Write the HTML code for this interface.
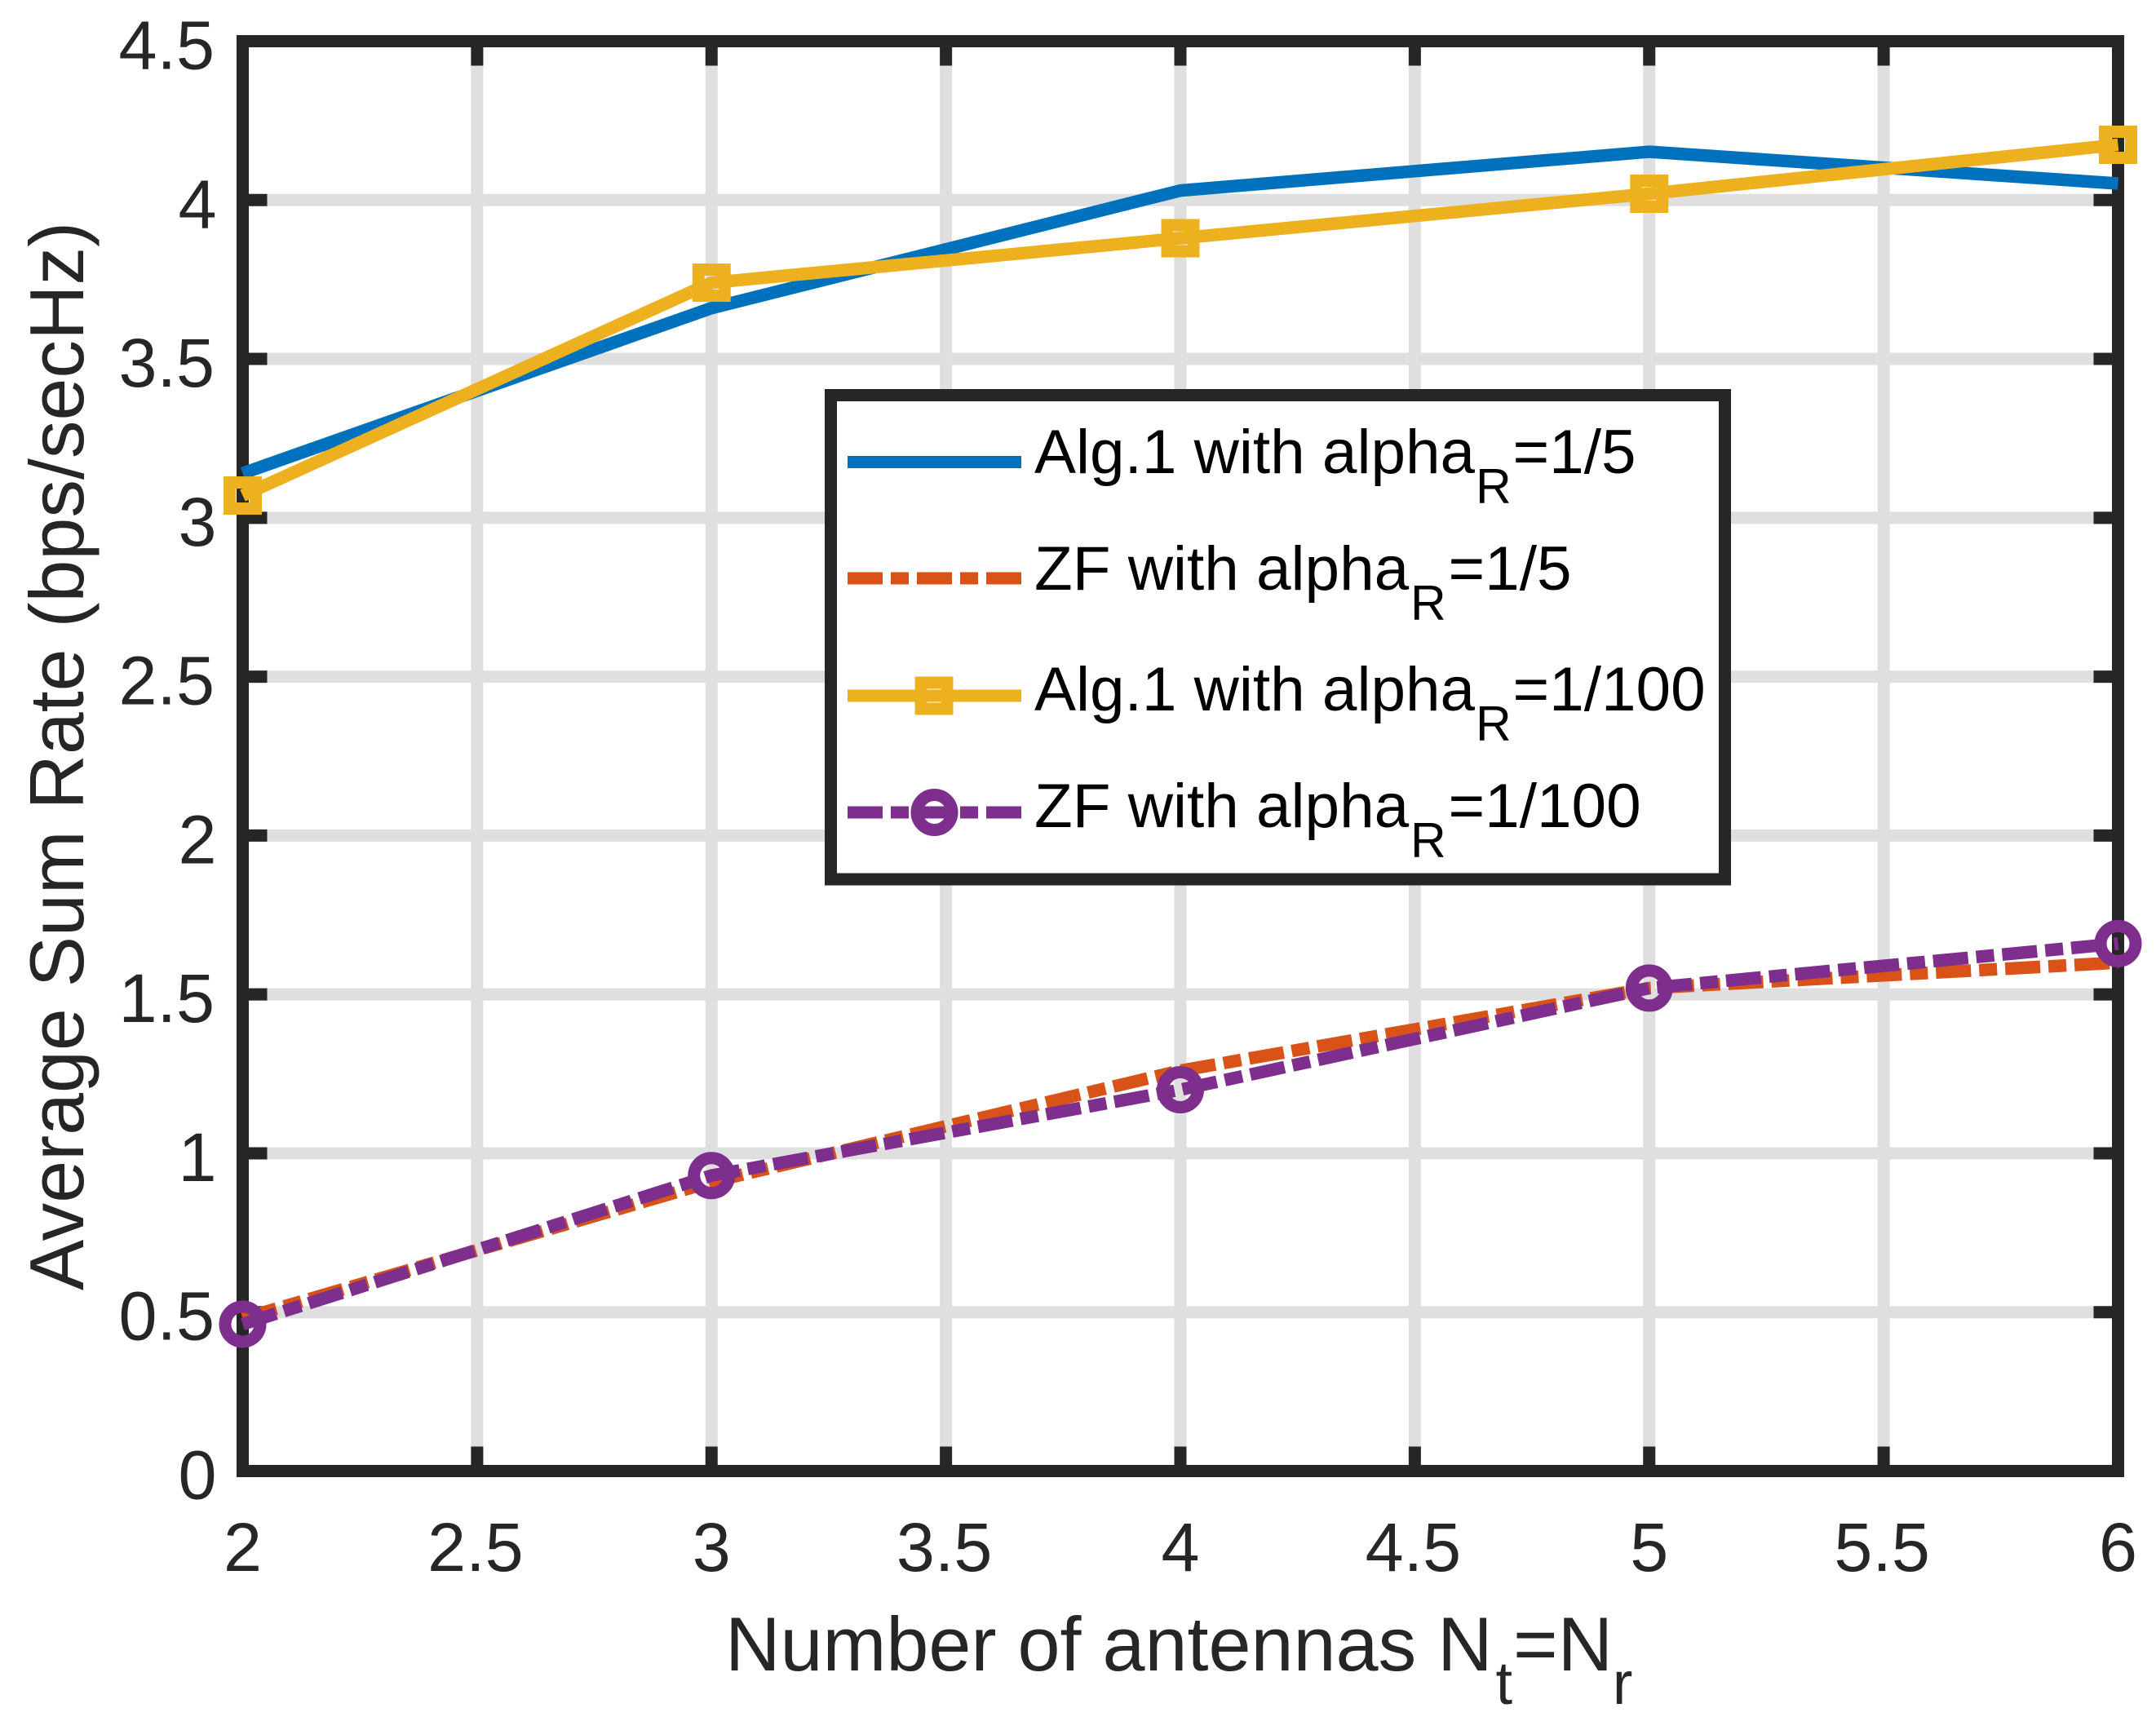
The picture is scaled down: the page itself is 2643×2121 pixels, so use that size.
<!DOCTYPE html>
<html lang="en">
<head>
<meta charset="utf-8">
<title>Average Sum Rate vs Number of Antennas</title>
<style>
html,body{margin:0;padding:0;background:#fff;}
svg{display:block;}
text{font-family:"Liberation Sans",Arial,sans-serif;}
</style>
</head>
<body>
<svg id="chart" xmlns="http://www.w3.org/2000/svg" width="2643" height="2121" viewBox="0 0 2643 2121">
  <rect x="0" y="0" width="2643" height="2121" fill="#ffffff"/>
  <g id="grid"></g>
  <g id="ticks"></g>
  <rect x="297.5" y="50.5" width="2299" height="1753" fill="none" stroke="#262626" stroke-width="15"/>
  <g id="tick-labels" font-size="84.5" fill="#262626"></g>
  <g id="series"></g>

  <text transform="translate(102,1582) rotate(-90)" text-anchor="start" font-size="93.3" fill="#262626">Average Sum Rate (bps/secHz)</text>

  <g fill="#262626">
    <text x="889" y="2048" font-size="93.5">Number of antennas N</text>
    <text x="1833.5" y="2089" font-size="74">t</text>
    <text x="1855" y="2048" font-size="93.5">=N</text>
    <text x="1976.7" y="2089" font-size="74">r</text>
  </g>

  <g id="legend">
    <rect x="1018.5" y="484.5" width="1096" height="593.5" fill="#ffffff" stroke="#262626" stroke-width="15"/>
    <g>
      <line x1="1039" x2="1252" y1="566.5" y2="566.5" stroke="#0072BD" stroke-width="15"/>
      <text x="1268" y="580" font-size="76.5" fill="#000">Alg.1 with alpha<tspan x="1809" dy="37" font-size="60.5">R</tspan><tspan x="1854.5" dy="-37">=1/5</tspan></text>
    </g>
    <g>
      <line x1="1039" x2="1252" y1="709" y2="709" stroke="#D95319" stroke-width="15" stroke-dasharray="43 10 22 10"/>
      <text x="1268" y="723" font-size="76.5" fill="#000">ZF with alpha<tspan x="1729" dy="37" font-size="60.5">R</tspan><tspan x="1775.5" dy="-37">=1/5</tspan></text>
    </g>
    <g>
      <line x1="1039" x2="1252" y1="853" y2="853" stroke="#EDB120" stroke-width="15"/>
      <rect x="1129" y="837" width="32" height="32" fill="none" stroke="#EDB120" stroke-width="15"/>
      <text x="1268" y="871" font-size="76.5" fill="#000">Alg.1 with alpha<tspan x="1809" dy="37" font-size="60.5">R</tspan><tspan x="1854.5" dy="-37">=1/100</tspan></text>
    </g>
    <g>
      <line x1="1039" x2="1252" y1="996" y2="996" stroke="#7E2F8E" stroke-width="15" stroke-dasharray="43 10 22 10"/>
      <circle cx="1145.5" cy="996" r="21.5" fill="none" stroke="#7E2F8E" stroke-width="15"/>
      <text x="1268" y="1014" font-size="76.5" fill="#000">ZF with alpha<tspan x="1729" dy="37" font-size="60.5">R</tspan><tspan x="1775.5" dy="-37">=1/100</tspan></text>
    </g>
  </g>
</svg>
<script>
// Chart data
const antennas = [2, 3, 4, 5, 6];
const alg1Alpha5 = [3.14, 3.66, 4.03, 4.152, 4.052];
const zfAlpha5 = [0.48, 0.91, 1.26, 1.52, 1.60];
const alg1Alpha100 = [3.07, 3.74, 3.88, 4.02, 4.174];
const zfAlpha100 = [0.462, 0.93, 1.20, 1.52, 1.66];
const xTickValues = [2, 2.5, 3, 3.5, 4, 4.5, 5, 5.5, 6];
const xTickLabels = ['2', '2.5', '3', '3.5', '4', '4.5', '5', '5.5', '6'];
const yTickValues = [0, 0.5, 1, 1.5, 2, 2.5, 3, 3.5, 4, 4.5];
const yTickLabels = ['0', '0.5', '1', '1.5', '2', '2.5', '3', '3.5', '4', '4.5'];

const NS = 'http://www.w3.org/2000/svg';
const plotLeft = 297.5, plotRight = 2596.5, plotTop = 50.5, plotBottom = 1803.5;
const xMin = 2, xMax = 6, yMin = 0, yMax = 4.5;
function xScale(v) { return plotLeft + (v - xMin) / (xMax - xMin) * (plotRight - plotLeft); }
function yScale(v) { return plotBottom - (v - yMin) / (yMax - yMin) * (plotBottom - plotTop); }
function make(tag, attrs, parent) {
  const el = document.createElementNS(NS, tag);
  for (const k in attrs) el.setAttribute(k, attrs[k]);
  parent.appendChild(el);
  return el;
}

const gridGroup = document.getElementById('grid');
const tickGroup = document.getElementById('ticks');
const labelGroup = document.getElementById('tick-labels');
const seriesGroup = document.getElementById('series');
const GRID = '#dfdfdf', AXIS = '#262626', TICK_LEN = 30;

xTickValues.forEach(function (v, i) {
  const x = xScale(v);
  const g = make('line', {x1: x, x2: x, y1: plotTop, y2: plotBottom, stroke: GRID, 'stroke-width': 15}, gridGroup);
  
  
  const t1 = make('line', {x1: x, x2: x, y1: plotBottom, y2: plotBottom - TICK_LEN, stroke: AXIS, 'stroke-width': 15}, tickGroup);
  
  
  const t2 = make('line', {x1: x, x2: x, y1: plotTop, y2: plotTop + TICK_LEN, stroke: AXIS, 'stroke-width': 15}, tickGroup);
  
  
  const nudge = xTickLabels[i].indexOf('.') >= 0 ? -2 : 0;
  const l = make('text', {x: x + nudge, y: 1926, 'text-anchor': 'middle'}, labelGroup);
  
  
  l.textContent = xTickLabels[i];
});

yTickValues.forEach(function (v, i) {
  const y = yScale(v);
  const g = make('line', {x1: plotLeft, x2: plotRight, y1: y, y2: y, stroke: GRID, 'stroke-width': 15}, gridGroup);
  
  
  const t1 = make('line', {x1: plotLeft, x2: plotLeft + TICK_LEN, y1: y, y2: y, stroke: AXIS, 'stroke-width': 15}, tickGroup);
  
  
  const t2 = make('line', {x1: plotRight, x2: plotRight - TICK_LEN, y1: y, y2: y, stroke: AXIS, 'stroke-width': 15}, tickGroup);
  
  
  const right = yTickLabels[i].indexOf('.') >= 0 ? 263 : 265.5;
  const l = make('text', {x: right, y: y + 34, 'text-anchor': 'end'}, labelGroup);
  
  
  l.textContent = yTickLabels[i];
});

function drawLine(values, color, dash) {
  const pts = values.map(function (v, i) { return xScale(antennas[i]) + ',' + yScale(v); }).join(' ');
  const attrs = {points: pts, fill: 'none', stroke: color, 'stroke-width': 15.5, 'stroke-linejoin': 'round'};
  if (dash) attrs['stroke-dasharray'] = dash;
  return make('polyline', attrs, seriesGroup);
}

const lineA = drawLine(alg1Alpha5, '#0072BD');



const lineB = drawLine(zfAlpha5, '#D95319', '43 10 22 10');



const lineC = drawLine(alg1Alpha100, '#EDB120');


alg1Alpha100.forEach(function (v, i) {
  const m = make('rect', {x: xScale(antennas[i]) - 16, y: yScale(v) - 16, width: 32, height: 32, fill: 'none', stroke: '#EDB120', 'stroke-width': 15}, seriesGroup);
  
  
});

const lineD = drawLine(zfAlpha100, '#7E2F8E', '43 10 22 10');


zfAlpha100.forEach(function (v, i) {
  const m = make('circle', {cx: xScale(antennas[i]), cy: yScale(v), r: 21.5, fill: 'none', stroke: '#7E2F8E', 'stroke-width': 15}, seriesGroup);
  
  
});
</script>
</body>
</html>
